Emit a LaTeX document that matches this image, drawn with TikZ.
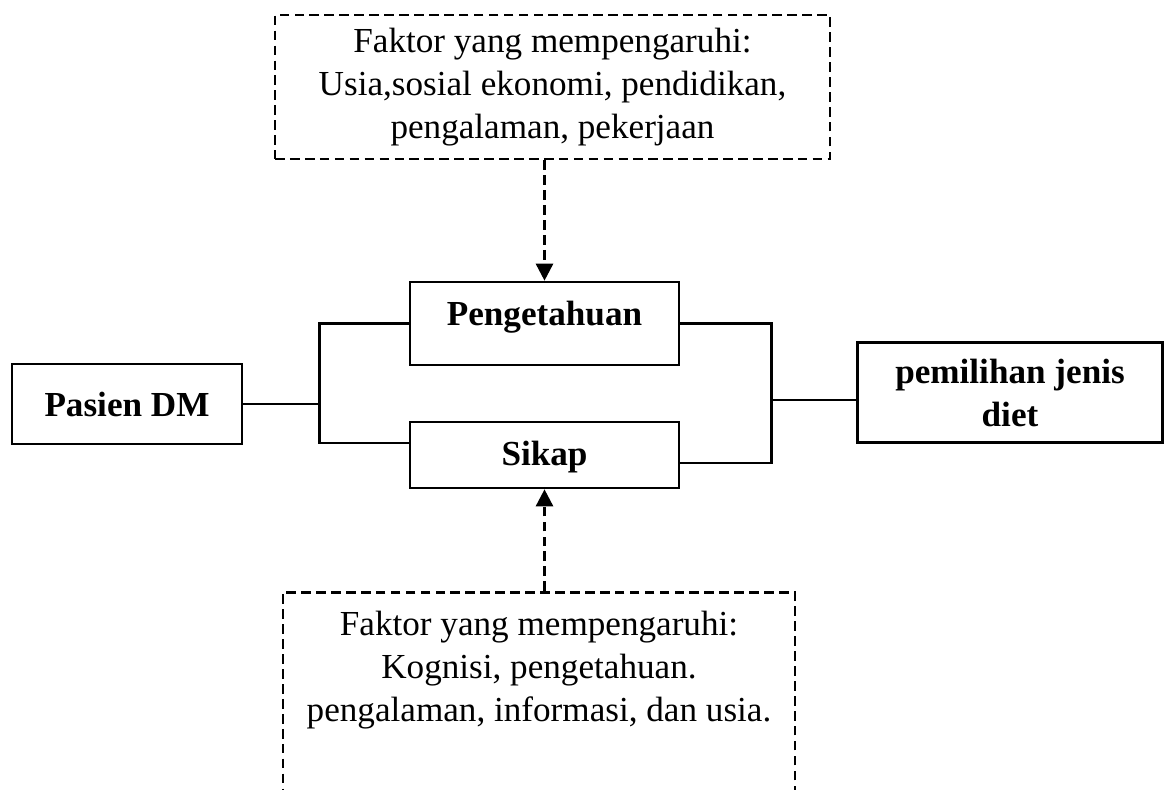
\documentclass[tikz,border=0pt]{standalone}
\usepackage{fontspec}
\setmainfont{Liberation Serif}
\usetikzlibrary{positioning, arrows.meta, calc}

\begin{document}
\begin{tikzpicture}[
  kotak/.style={draw, line width=1.5pt, font=\fontsize{20}{24.5}\selectfont\bfseries, align=center, inner sep=0pt},
  kotakputus/.style={draw, line width=1.5pt, dash pattern=on 5.5pt off 3pt, font=\fontsize{20}{24.5}\selectfont, align=center, inner sep=0pt},
  garis/.style={line width=1.5pt},
  panah/.style={line width=1.5pt, dash pattern=on 5.5pt off 3pt, -{Triangle[length=0.34cm, width=0.34cm]}}
]
\useasboundingbox (0,0) rectangle (23.36,-15.78);
\clip (0,0) rectangle (23.36,-15.78);

% Faktor (atas)
\node[kotakputus, minimum width=11.1cm, minimum height=2.88cm] (atas) at (11.05,-1.74)
  {Faktor yang mempengaruhi:\\ Usia,sosial ekonomi, pendidikan,\\ pengalaman, pekerjaan};

% Pasien DM
\node[kotak, minimum width=4.6cm, minimum height=1.6cm] (pasien) at (2.54,-8.08) {Pasien DM};

% Pengetahuan dan Sikap
\node[kotak, minimum width=5.38cm, text height=0.86cm, text depth=0.8cm] (tahu) at (10.89,-6.47) {Pengetahuan};
\node[kotak, minimum width=5.38cm, text height=0.86cm, text depth=0.46cm] (sikap) at (10.89,-9.1) {Sikap};

% pemilihan jenis diet
\node[kotak, minimum width=6.1cm, minimum height=2cm] (diet) at (20.2,-7.85) {pemilihan jenis\\ diet};

% Faktor (bawah)
\node[kotakputus, anchor=north, minimum width=10.24cm, inner ysep=0.38cm, text depth=2.2cm] (bawah) at (10.78,-11.82)
  {Faktor yang mempengaruhi:\\ Kognisi, pengetahuan.\\ pengalaman, informasi, dan usia.};

% Hubungan
\coordinate (kiri) at ($(tahu.west)+(-1.78,0)$);
\draw[garis] (pasien.east) -- (pasien.east -| kiri);
\draw[garis] (tahu.west) -- (kiri) |- ([yshift=0.24cm]sikap.west);
\draw[garis] (tahu.east) -- ++(1.82,0) coordinate (kanan) |- ([yshift=-0.16cm]sikap.east);
\coordinate (masuk) at ([yshift=-0.15cm]diet.west);
\draw[garis] (masuk) -- (masuk -| kanan);

\draw[panah] (atas.south -| tahu.north) -- (tahu.north);
\draw[panah] (bawah.north -| sikap.south) -- (sikap.south);

\end{tikzpicture}
\end{document}
